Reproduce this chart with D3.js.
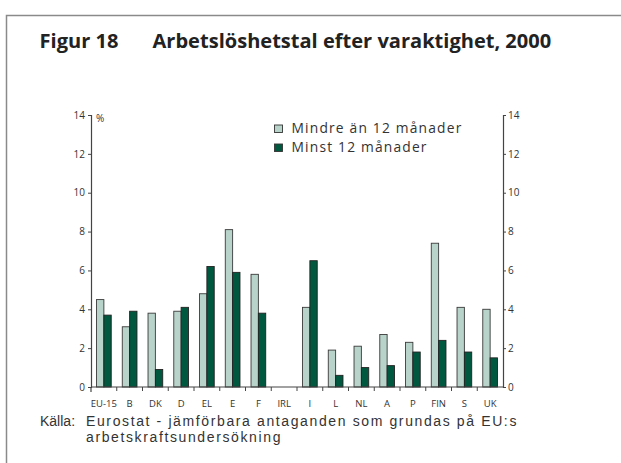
<!DOCTYPE html>
<html>
<head>
<meta charset="utf-8">
<script src="https://cdn.jsdelivr.net/npm/d3@7"></script>
<style>
  html, body { margin: 0; padding: 0; background: #fff; }
  svg { display: block; }
</style>
</head>
<body>
<svg id="chart" width="621" height="463"></svg>
<script>
// ---- data ----
const categories = ["EU-15","B","DK","D","EL","E","F","IRL","I","L","NL","A","P","FIN","S","UK"];
const shortTerm = [4.5, 3.1, 3.8, 3.9, 4.8, 8.1, 5.8, null, 4.1, 1.9, 2.1, 2.7, 2.3, 7.4, 4.1, 4.0];
const longTerm  = [3.7, 3.9, 0.9, 4.1, 6.2, 5.9, 3.8, null, 6.5, 0.6, 1.0, 1.1, 1.8, 2.4, 1.8, 1.5];
const seriesNames = ["Mindre än 12 månader", "Minst 12 månader"];
const yTicks = [0, 2, 4, 6, 8, 10, 12, 14];
const titleLabel = "Figur 18";
const titleText = "Arbetslöshetstal efter varaktighet, 2000";
const sourceLabel = "Källa:";
const sourceLines = ["Eurostat - jämförbara antaganden som grundas på EU:s", "arbetskraftsundersökning"];
const unitLabel = "%";

// ---- styles ----
const colLight = "#b7d3ca";
const colDark = "#00583e";
const fontMain = "'Open Sans', 'Noto Sans', sans-serif";
const fontSource = "'Liberation Sans', Arial, sans-serif";

const svg = d3.select("#chart");

// frame
svg.append("path")
  .attr("d", "M6.5,463 L6.5,15.5 L621,15.5")
  .attr("fill", "none").attr("stroke", "#8a8a8a").attr("stroke-width", 1.5);

// helpers
function fit(sel, w) {
  const fs = parseFloat(sel.attr("font-size"));
  const len = sel.node().getComputedTextLength();
  sel.attr("font-size", (fs * w / len).toFixed(2));
  return sel;
}
function spaceTo(sel, w) {
  const len = sel.node().getComputedTextLength();
  const n = sel.text().length;
  sel.attr("letter-spacing", ((w - len) / n).toFixed(3));
  return sel;
}

// title
const t1 = svg.append("text").attr("x", 39.5).attr("y", 47.5)
  .attr("font-family", fontMain).attr("font-weight", "bold").attr("font-size", 17)
  .attr("fill", "#222").text(titleLabel);
const t2 = svg.append("text").attr("x", 152.5).attr("y", 47.5)
  .attr("font-family", fontMain).attr("font-weight", "bold").attr("font-size", 17)
  .attr("fill", "#222").text(titleText);
fit(t2, 399);
t1.attr("font-size", t2.attr("font-size"));
spaceTo(t1, 79);

// scales
const x0 = 91, x1 = 503, yBase = 387, yTop = 115;
const x = d3.scaleBand().domain(categories).range([x0, x1]).padding(0);
const y = d3.scaleLinear().domain([0, 14]).range([yBase, yTop]);
const barW = 7.35;

const g = svg.append("g");

// bars
const data = categories.map((c, i) => ({ c, s: shortTerm[i], l: longTerm[i] }));
g.selectAll(".bs").data(data.filter(d => d.s != null)).join("rect")
  .attr("x", d => x(d.c) + x.bandwidth() / 2 - barW)
  .attr("y", d => y(d.s))
  .attr("width", barW).attr("height", d => y(0) - y(d.s))
  .attr("fill", colLight).attr("stroke", "#3a3a3a").attr("stroke-width", 0.9);
g.selectAll(".bl").data(data.filter(d => d.l != null)).join("rect")
  .attr("x", d => x(d.c) + x.bandwidth() / 2)
  .attr("y", d => y(d.l))
  .attr("width", barW).attr("height", d => y(0) - y(d.l))
  .attr("fill", colDark).attr("stroke", "#222").attr("stroke-width", 0.9);

// axes
const axisColor = "#444";
const yAxisL = d3.axisLeft(y).tickValues(yTicks).tickSize(3).tickPadding(3);
const yAxisR = d3.axisRight(y).tickValues(yTicks).tickSize(3).tickPadding(2);
function styleAxis(a) {
  a.select(".domain").attr("stroke", axisColor).attr("stroke-width", 1.2);
  a.selectAll(".tick line").attr("stroke", axisColor);
  a.selectAll(".tick text").attr("fill", "#333").attr("font-size", 10).attr("font-family", fontMain);
}
const gl = svg.append("g").attr("transform", `translate(${x0},0)`).call(yAxisL);
styleAxis(gl);
const gr = svg.append("g").attr("transform", `translate(${x1},0)`).call(yAxisR);
styleAxis(gr);

// x axis: line + boundary ticks + labels
const xa = svg.append("g");
xa.append("line").attr("x1", x0).attr("x2", x1).attr("y1", yBase).attr("y2", yBase)
  .attr("stroke", axisColor).attr("stroke-width", 1.2);
xa.append("line").attr("x1", x0).attr("x2", x0).attr("y1", yBase).attr("y2", yBase + 5)
  .attr("stroke", axisColor).attr("stroke-width", 1.2);
xa.selectAll(".xt").data(categories.slice(1)).join("line")
  .attr("x1", d => x(d)).attr("x2", d => x(d))
  .attr("y1", yBase).attr("y2", yBase + 4)
  .attr("stroke", axisColor).attr("stroke-width", 1);
xa.selectAll(".xl").data(categories).join("text")
  .attr("x", d => x(d) + x.bandwidth() / 2).attr("y", 406.5)
  .attr("text-anchor", "middle").attr("font-size", 9.5).attr("font-family", fontMain)
  .attr("fill", "#333").text(d => d);

// unit
svg.append("text").attr("x", 96).attr("y", 122).attr("font-size", 10)
  .attr("font-family", fontMain).attr("fill", "#333").text(unitLabel);

// legend
const leg = svg.append("g");
[colLight, colDark].forEach((c, i) => {
  leg.append("rect").attr("x", 274.5).attr("y", 125 + i * 19).attr("width", 8).attr("height", 7.5)
    .attr("fill", c).attr("stroke", "#333").attr("stroke-width", 0.9);
});
const legText = leg.append("text").attr("x", 291.5).attr("y", 133)
  .attr("font-size", 13.8).attr("font-family", fontMain).attr("fill", "#333");
seriesNames.forEach((s, i) => {
  legText.append("tspan").attr("x", 291.5).attr("y", 133 + i * 19).text(s);
});
{
  const ts = legText.select("tspan");
  const len = ts.node().getComputedTextLength();
  legText.attr("letter-spacing", ((171 - len) / seriesNames[0].length).toFixed(3));
}

// source
svg.append("text").attr("x", 40).attr("y", 426).attr("font-size", 14)
  .attr("font-family", fontSource).attr("fill", "#333").text(sourceLabel);
const src = svg.append("text").attr("x", 86).attr("y", 426).attr("font-size", 14)
  .attr("font-family", fontSource).attr("fill", "#333");
sourceLines.forEach((s, i) => {
  src.append("tspan").attr("x", 86).attr("y", 426 + i * 16).text(s);
});
{
  const ts = src.select("tspan");
  const len = ts.node().getComputedTextLength();
  src.attr("letter-spacing", ((432 - len) / sourceLines[0].length).toFixed(3));
}
</script>
</body>
</html>
